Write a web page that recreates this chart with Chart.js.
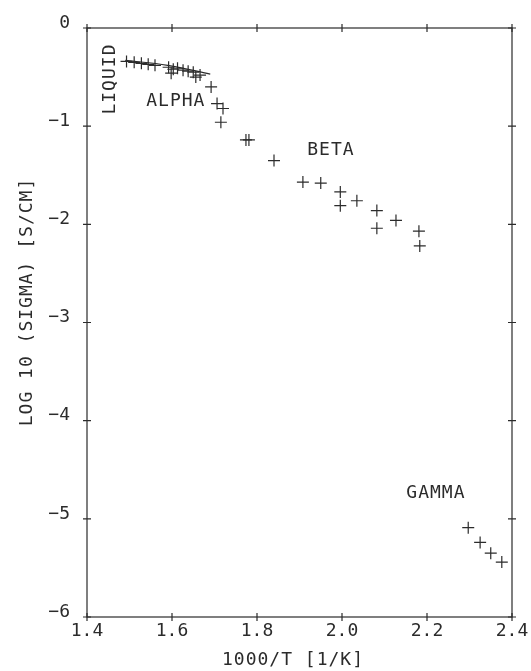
<!DOCTYPE html>
<html>
<head>
<meta charset="utf-8">
<script src="https://cdn.jsdelivr.net/npm/chart.js@4/dist/chart.umd.min.js"></script>
<style>
  html, body { margin: 0; padding: 0; background: #ffffff; }
  #wrap { width: 531px; height: 671px; }
</style>
</head>
<body>
<div id="wrap"><canvas id="c" width="531" height="671"></canvas></div>
<script>
// ---- data ----
const xTicks = [1.4, 1.6, 1.8, 2.0, 2.2, 2.4];
const yTicks = [0, -1, -2, -3, -4, -5, -6];

const liquidX = [1.493, 1.511, 1.528, 1.544, 1.560, 1.592, 1.598, 1.603, 1.613, 1.626, 1.638, 1.650, 1.656, 1.666];
const liquidY = [-0.34, -0.35, -0.36, -0.37, -0.38, -0.40, -0.46, -0.42, -0.41, -0.43, -0.44, -0.45, -0.50, -0.48];

const fitX = [1.49, 1.59, 1.69];
const fitY = [-0.33, -0.38, -0.47];

const alphaX = [1.692, 1.706, 1.720, 1.715];
const alphaY = [-0.60, -0.77, -0.82, -0.96];

const betaX = [1.774, 1.781, 1.840, 1.908, 1.950, 1.996, 1.996, 2.035, 2.082, 2.082, 2.127, 2.181, 2.183];
const betaY = [-1.14, -1.14, -1.35, -1.57, -1.58, -1.67, -1.81, -1.76, -1.86, -2.04, -1.96, -2.07, -2.22];

const gammaX = [2.297, 2.325, 2.350, 2.376];
const gammaY = [-5.09, -5.24, -5.35, -5.44];

const phaseLabels = ['LIQUID', 'ALPHA', 'BETA', 'GAMMA'];
const phaseLabelX = [1.455, 1.609, 1.974, 2.221];
const phaseLabelY = [-0.52, -0.744, -1.243, -4.742];

const xTitle = '1000/T [1/K]';
const yTitle = 'LOG 10 (SIGMA) [S/CM]';

// ---- build ----
const INK = '#2b2b2b';
const FONT = '"DejaVu Sans Mono", "Liberation Mono", monospace';
const pts = (xs, ys) => xs.map((x, i) => ({ x: x, y: ys[i] }));

const crossSet = (label, xs, ys) => ({
  label: label,
  data: pts(xs, ys),
  showLine: false,
  pointStyle: 'cross',
  pointRadius: 6,
  pointBorderWidth: 1.2,
  borderColor: INK,
  backgroundColor: INK
});

const framePlugin = {
  id: 'frame',
  beforeDraw(chart) {
    chart.ctx.letterSpacing = '0px';
  },
  afterDraw(chart) {
    const ctx = chart.ctx;
    const a = chart.chartArea;
    const xs = chart.scales.x, ys = chart.scales.y;
    ctx.save();
    ctx.strokeStyle = INK;
    ctx.lineWidth = 1.2;
    ctx.strokeRect(a.left, a.top, a.right - a.left, a.bottom - a.top);
    const t = 4;
    ctx.beginPath();
    xTicks.forEach(v => {
      const p = xs.getPixelForValue(v);
      ctx.moveTo(p, a.bottom - t); ctx.lineTo(p, a.bottom + t);
      ctx.moveTo(p, a.top - t); ctx.lineTo(p, a.top + t);
    });
    yTicks.forEach(v => {
      const p = ys.getPixelForValue(v);
      ctx.moveTo(a.left - t, p); ctx.lineTo(a.left + t, p);
      ctx.moveTo(a.right - t, p); ctx.lineTo(a.right + t, p);
    });
    ctx.stroke();

    ctx.fillStyle = INK;
    ctx.font = '18px ' + FONT;
    ctx.letterSpacing = '1px';
    ctx.textAlign = 'center';
    ctx.textBaseline = 'middle';
    // phase labels
    phaseLabels.forEach((s, i) => {
      const px = xs.getPixelForValue(phaseLabelX[i]);
      const py = ys.getPixelForValue(phaseLabelY[i]);
      ctx.save();
      ctx.translate(px, py);
      if (s === 'LIQUID') ctx.rotate(-Math.PI / 2);
      ctx.fillText(s, 0, 0);
      ctx.restore();
    });
    // axis titles
    ctx.fillText(xTitle, 293, 660);
    ctx.save();
    ctx.translate(27, 302);
    ctx.rotate(-Math.PI / 2);
    ctx.fillText(yTitle, 0, 0);
    ctx.restore();
    ctx.restore();
  }
};

new Chart(document.getElementById('c'), {
  type: 'scatter',
  data: {
    datasets: [
      crossSet('liquid', liquidX, liquidY),
      {
        label: 'fit',
        data: pts(fitX, fitY),
        showLine: true,
        pointRadius: 0,
        borderColor: INK,
        borderWidth: 1.2,
        tension: 0.4,
        fill: false
      },
      crossSet('alpha', alphaX, alphaY),
      crossSet('beta', betaX, betaY),
      crossSet('gamma', gammaX, gammaY)
    ]
  },
  options: {
    responsive: false,
    animation: false,
    devicePixelRatio: 1,
    layout: { padding: { left: 0, top: 28, right: 19, bottom: 0 } },
    plugins: { legend: { display: false }, tooltip: { enabled: false }, title: { display: false } },
    scales: {
      x: {
        type: 'linear',
        min: 1.4, max: 2.4,
        afterBuildTicks: s => { s.ticks = xTicks.map(v => ({ value: v })); },
        afterFit: s => { s.height = 54; },
        grid: { display: false },
        border: { display: false },
        ticks: {
          color: INK,
          font: { family: FONT, size: 18 },
          padding: -4,
          maxRotation: 0,
          callback: v => Number(v).toFixed(1)
        }
      },
      y: {
        type: 'linear',
        min: -6, max: 0,
        afterBuildTicks: s => { s.ticks = yTicks.map(v => ({ value: v })); },
        afterFit: s => { s.width = 87; },
        grid: { display: false },
        border: { display: false },
        ticks: {
          color: INK,
          font: { family: FONT, size: 18 },
          padding: 9,
          labelOffset: -5,
          callback: v => (v < 0 ? '\u2212' + Math.abs(v) : String(v))
        }
      }
    }
  },
  plugins: [framePlugin]
});
</script>
</body>
</html>
